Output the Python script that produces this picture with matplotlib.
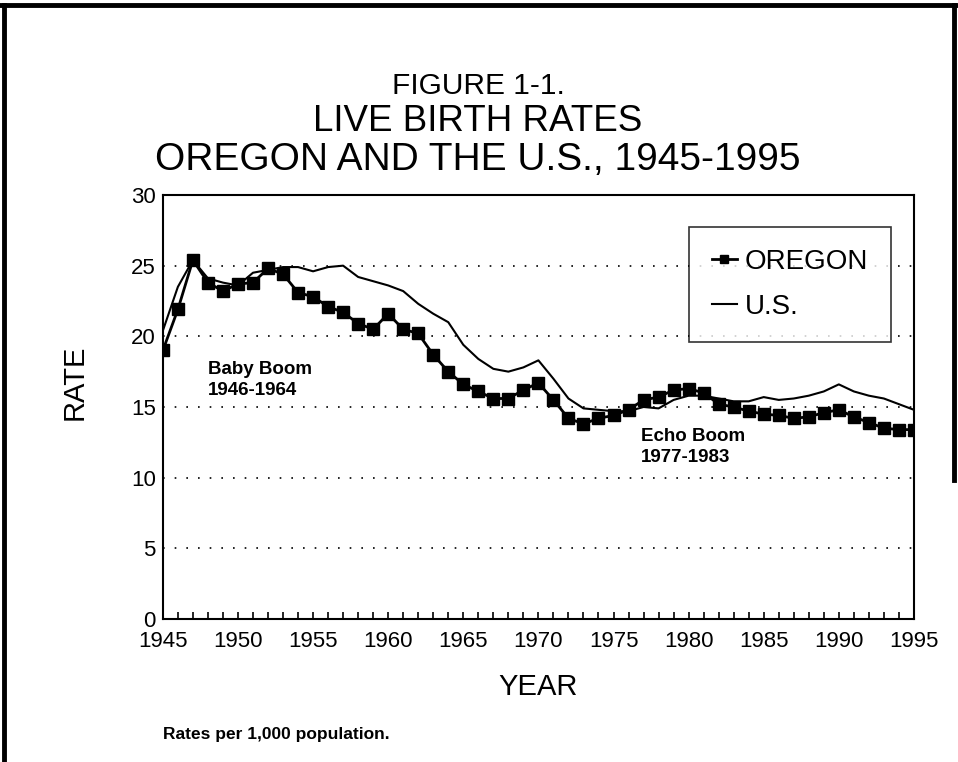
import matplotlib
matplotlib.use("Agg")
import matplotlib.pyplot as plt
from matplotlib.lines import Line2D
from matplotlib.ticker import MultipleLocator

plt.rcParams['font.family'] = ['Liberation Sans', 'DejaVu Sans']

years = list(range(1945, 1996))
oregon = [19.0, 21.9, 25.4, 23.8, 23.2, 23.7, 23.8, 24.8, 24.4, 23.1,
          22.8, 22.1, 21.7, 20.9, 20.5, 21.6, 20.5, 20.2, 18.7, 17.5,
          16.6, 16.1, 15.6, 15.6, 16.2, 16.7, 15.5, 14.2, 13.8, 14.2,
          14.4, 14.8, 15.5, 15.7, 16.2, 16.3, 16.0, 15.2, 15.0, 14.7,
          14.5, 14.4, 14.2, 14.3, 14.6, 14.8, 14.3, 13.9, 13.5, 13.4,
          13.4]
us = [20.4, 23.5, 25.4, 24.1, 23.8, 23.6, 24.5, 24.7, 24.9, 24.9,
      24.6, 24.9, 25.0, 24.2, 23.9, 23.6, 23.2, 22.3, 21.6, 21.0,
      19.4, 18.4, 17.7, 17.5, 17.8, 18.3, 17.0, 15.6, 14.9, 14.8,
      14.7, 14.7, 15.0, 14.9, 15.5, 15.8, 15.8, 15.6, 15.4, 15.4,
      15.7, 15.5, 15.6, 15.8, 16.1, 16.6, 16.1, 15.8, 15.6, 15.2,
      14.8]
x_ticks = [1945, 1950, 1955, 1960, 1965, 1970, 1975, 1980, 1985, 1990, 1995]
y_ticks = [0, 5, 10, 15, 20, 25, 30]

fig = plt.figure(figsize=(9.58, 7.62), dpi=100)
ax = fig.add_axes([0.170, 0.1877, 0.784, 0.5564])

ax.plot(years, oregon, color='black', lw=2.0, marker='s', markersize=8.3,
        label='OREGON', zorder=3)
ax.plot(years, us, color='black', lw=1.5, label='U.S.', zorder=2)

ax.set_xlim(1945, 1995)
ax.set_ylim(0, 30)
ax.set_xticks(x_ticks)
ax.set_yticks(y_ticks)
ax.xaxis.set_minor_locator(MultipleLocator(1))
ax.tick_params(axis='x', which='both', direction='in', length=5, width=1.2,
               labelsize=16, pad=8.5)
ax.tick_params(axis='y', which='both', length=0, labelsize=16, pad=5)
for s in ax.spines.values():
    s.set_linewidth(1.5)
    s.set_color('black')

for yv in [5, 10, 15, 20, 25]:
    ax.axhline(yv, color='black', lw=1.2, ls=(0, (1, 6)), zorder=1)

ax.set_xlabel('YEAR', fontsize=21)
ax.xaxis.set_label_coords(0.5, -0.127)
ax.set_ylabel('RATE', fontsize=21)
ax.yaxis.set_label_coords(-0.099, 0.558)

ax.text(1948.0, 16.92, 'Baby Boom\n1946-1964', fontsize=13.5, fontweight='bold',
        va='center', ha='left', linespacing=1.3)
ax.text(1976.8, 12.2, 'Echo Boom\n1977-1983', fontsize=13.5, fontweight='bold',
        va='center', ha='left', linespacing=1.3)

leg = ax.legend(loc='upper right', bbox_to_anchor=(0.969, (619 - 227) / 424),
                borderaxespad=0, fontsize=20, frameon=True, fancybox=False,
                handlelength=0.9, handletextpad=0.3, borderpad=0.8,
                labelspacing=0.68, markerscale=0.78)
leg.get_frame().set_edgecolor('black')
leg.get_frame().set_linewidth(1.2)

fig.text(0.499, 0.887, 'FIGURE 1-1.', ha='center', va='center', fontsize=21.5)
fig.text(0.499, 0.840, 'LIVE BIRTH RATES', ha='center', va='center', fontsize=26.5)
fig.text(0.499, 0.790, 'OREGON AND THE U.S., 1945-1995', ha='center',
         va='center', fontsize=28)

fig.text(0.170, (762 - 734) / 762, 'Rates per 1,000 population.', ha='left',
         va='center', fontsize=12.5, fontweight='bold')

# page border
fig.add_artist(Line2D([0.004, 0.004], [0.0, 0.994], transform=fig.transFigure,
                      color='black', lw=3.5))
fig.add_artist(Line2D([0.0, 1.0], [0.994, 0.994], transform=fig.transFigure,
                      color='black', lw=3.5))
fig.add_artist(Line2D([0.996, 0.996], [0.37, 0.994], transform=fig.transFigure,
                      color='black', lw=3.5))

fig.savefig('out.png', dpi=100)
